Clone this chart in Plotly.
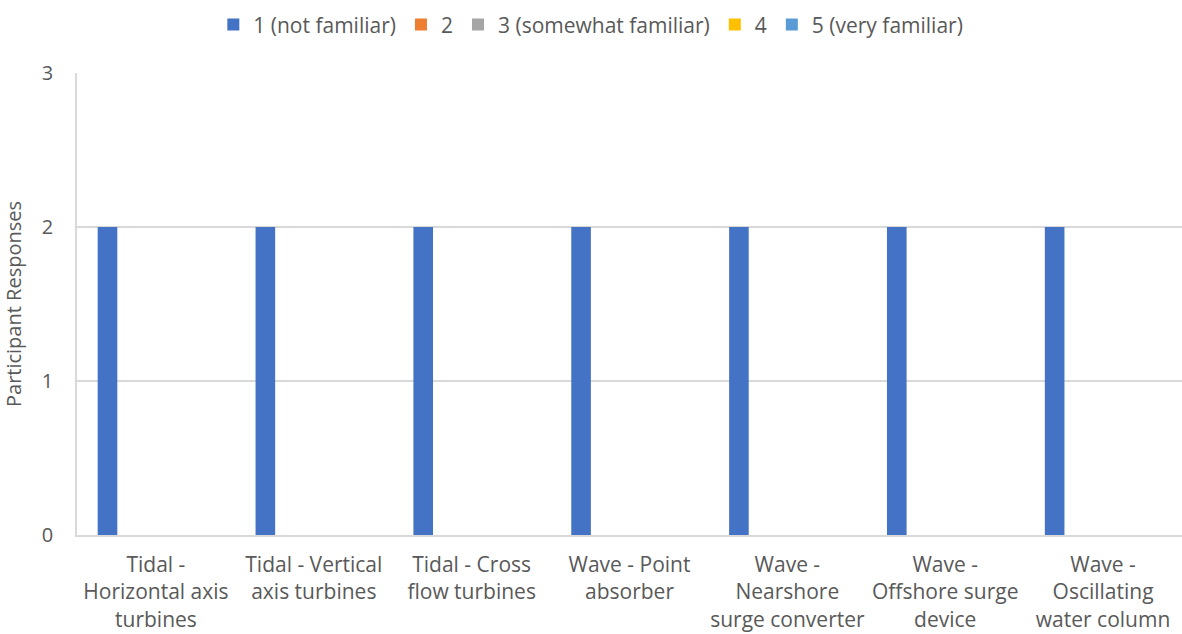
import plotly.graph_objects as go

categories = [
    "Tidal -<br>Horizontal axis<br>turbines",
    "Tidal - Vertical<br>axis turbines",
    "Tidal - Cross<br>flow turbines",
    "Wave - Point<br>absorber",
    "Wave -<br>Nearshore<br>surge converter",
    "Wave -<br>Offshore surge<br>device",
    "Wave -<br>Oscillating<br>water column",
]
series_names = ["1 (not familiar)", "2", "3 (somewhat familiar)", "4", "5 (very familiar)"]
series_values = [
    [2, 2, 2, 2, 2, 2, 2],
    [0, 0, 0, 0, 0, 0, 0],
    [0, 0, 0, 0, 0, 0, 0],
    [0, 0, 0, 0, 0, 0, 0],
    [0, 0, 0, 0, 0, 0, 0],
]
colors = ["#4472C4", "#ED7D31", "#A5A5A5", "#FFC000", "#5B9BD5"]

fig = go.Figure()
for name, vals, c in zip(series_names, series_values, colors):
    fig.add_trace(go.Bar(x=categories, y=vals, name=name, marker_color=c, marker_line_width=0))

font_family = "Open Sans, Liberation Sans, sans-serif"
fs = 20
fig.update_layout(
    width=1182, height=634,
    margin=dict(l=77, r=0, t=73, b=99),
    paper_bgcolor="white", plot_bgcolor="white",
    barmode="group", bargap=0.233, bargroupgap=0.19,
    font=dict(family=font_family, color="#595959", size=fs),
    legend=dict(orientation="h", x=0.465, xanchor="center", y=0.993, yref="container",
                yanchor="top", font=dict(size=21), traceorder="normal",
                itemwidth=30, tracegroupgap=0),
    showlegend=True,
)
fig.update_xaxes(showgrid=False, showline=True, linecolor="#D9D9D9", linewidth=1.5,
                 ticks="", tickfont=dict(size=21), automargin=False, ticklabelstandoff=10)
fig.update_yaxes(range=[0, 3], dtick=1, showgrid=True, gridcolor="#D9D9D9", gridwidth=1.5,
                 showline=True, linecolor="#D9D9D9", linewidth=1.5, zeroline=False,
                 ticks="", tickfont=dict(size=fs), ticklabelstandoff=18,
                 title=dict(text="Participant Responses", font=dict(size=fs), standoff=16),
                 automargin=False)
fig.write_html("out.html", config={"displayModeBar": False},
               post_script="document.body.style.margin='0';document.body.style.overflow='hidden';")
